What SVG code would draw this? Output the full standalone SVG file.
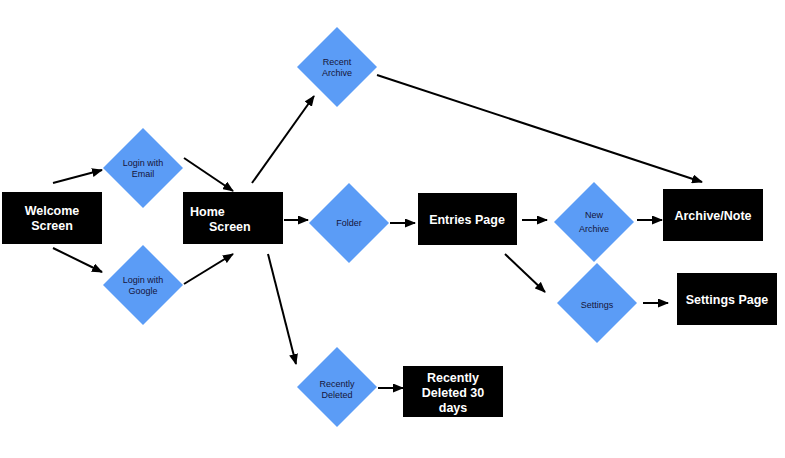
<svg xmlns="http://www.w3.org/2000/svg" width="785" height="458" viewBox="0 0 785 458">
<style>
.box{fill:#000}
.dia{fill:#5b9cf6}
.bt{fill:#fff;font-family:"Liberation Sans",Arial,sans-serif;font-weight:bold;font-size:12.5px;text-anchor:middle}
.dt{fill:#15153a;font-family:"Liberation Sans",Arial,sans-serif;font-size:9px;text-anchor:middle}
.c line{stroke:#000;stroke-width:2;marker-end:url(#ah)}
</style>
<defs>
<marker id="ah" markerUnits="userSpaceOnUse" markerWidth="11" markerHeight="9" refX="10" refY="4.5" orient="auto">
<path d="M0,0 L11,4.5 L0,9 z" fill="#000"/>
</marker>
</defs>
<rect width="785" height="458" fill="#fff"/>
<g class="c">
<line x1="53" y1="183" x2="102" y2="170"/>
<line x1="53" y1="248" x2="102" y2="272"/>
<line x1="184" y1="158" x2="233" y2="191"/>
<line x1="184" y1="284" x2="233" y2="254"/>
<line x1="252" y1="183" x2="314" y2="96"/>
<line x1="377" y1="75" x2="702" y2="182"/>
<line x1="284" y1="220" x2="308" y2="220"/>
<line x1="390" y1="223" x2="415" y2="223"/>
<line x1="522" y1="220" x2="547" y2="220"/>
<line x1="637" y1="220" x2="662" y2="220"/>
<line x1="505" y1="254" x2="545" y2="292"/>
<line x1="643" y1="303" x2="668" y2="303"/>
<line x1="268" y1="254" x2="296" y2="364"/>
<line x1="378" y1="388" x2="403" y2="388"/>
</g>
<g id="welcome"><rect class="box" x="2" y="192" width="100" height="52"/><text class="bt" x="52" y="215">Welcome</text><text class="bt" x="52" y="230">Screen</text></g>
<g id="login-email"><polygon class="dia" points="143,128 183,168 143,208 103,168"/><text class="dt" x="143" y="166">Login with</text><text class="dt" x="143" y="177">Email</text></g>
<g id="login-google"><polygon class="dia" points="143,245 183,285 143,325 103,285"/><text class="dt" x="143" y="283">Login with</text><text class="dt" x="143" y="294">Google</text></g>
<g id="home"><rect class="box" x="183" y="192" width="100" height="52"/><text class="bt" x="190" y="216" style="text-anchor:start">Home</text><text class="bt" x="209" y="231" style="text-anchor:start">Screen</text></g>
<g id="recent-archive"><polygon class="dia" points="337,27 377,67 337,107 297,67"/><text class="dt" x="337" y="65">Recent</text><text class="dt" x="337" y="76">Archive</text></g>
<g id="folder"><polygon class="dia" points="349,183 389,223 349,263 309,223"/><text class="dt" x="349" y="226">Folder</text></g>
<g id="entries"><rect class="box" x="418" y="193" width="99" height="52"/><text class="bt" x="467" y="224">Entries Page</text></g>
<g id="new-archive"><polygon class="dia" points="594,182 634,222 594,262 554,222"/><text class="dt" x="594" y="218">New</text><text class="dt" x="594" y="232">Archive</text></g>
<g id="archive-note"><rect class="box" x="663" y="189" width="100" height="52"/><text class="bt" x="713" y="220">Archive/Note</text></g>
<g id="settings"><polygon class="dia" points="597,263 637,303 597,343 557,303"/><text class="dt" x="597" y="308">Settings</text></g>
<g id="settings-page"><rect class="box" x="677" y="273" width="100" height="52"/><text class="bt" x="727" y="304">Settings Page</text></g>
<g id="recently-deleted"><polygon class="dia" points="337,347 377,387 337,427 297,387"/><text class="dt" x="337" y="387">Recently</text><text class="dt" x="337" y="398">Deleted</text></g>
<g id="recently-deleted-30"><rect class="box" x="403" y="366" width="100" height="51"/><text class="bt" x="453" y="382">Recently</text><text class="bt" x="453" y="397">Deleted 30</text><text class="bt" x="453" y="412">days</text></g>
</svg>
